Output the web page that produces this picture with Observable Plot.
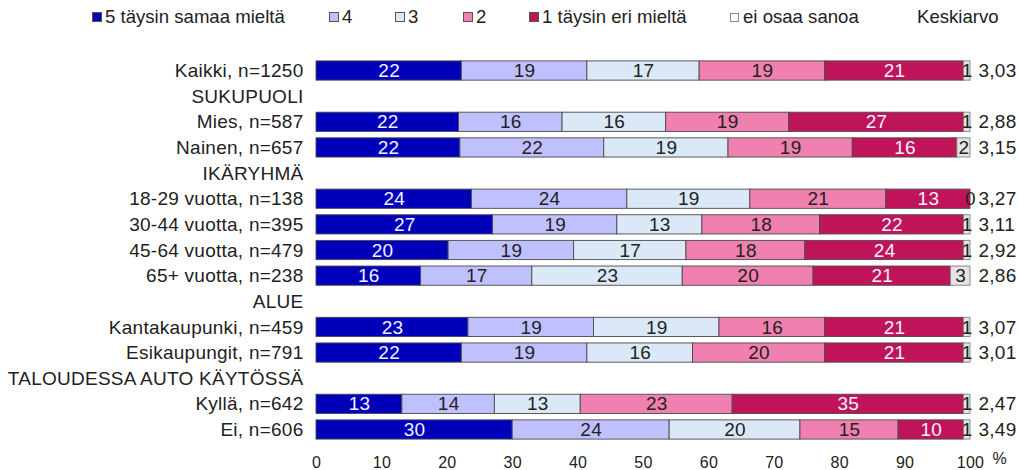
<!DOCTYPE html>
<html><head><meta charset="utf-8">
<script src="https://cdn.jsdelivr.net/npm/d3@7"></script>
<script src="https://cdn.jsdelivr.net/npm/@observablehq/plot@0.6"></script>
<style>
body{margin:0;background:#fff;font-family:"Liberation Sans",Arial,sans-serif;}
#legend{position:relative;width:1019px;height:34px;font-size:18.6px;color:#222}
#legend .sw{position:absolute;top:12px;width:10px;height:10px;border:1px solid #555;box-sizing:border-box}
#legend .lb{position:absolute;top:6px;line-height:22px;white-space:nowrap}
</style></head><body>
<div id="legend"></div>
<div id="chart"></div>
<script>
// ---- data ----
const rowLabels = ["Kaikki, n=1250","SUKUPUOLI","Mies, n=587","Nainen, n=657","IKÄRYHMÄ",
  "18-29 vuotta, n=138","30-44 vuotta, n=395","45-64 vuotta, n=479","65+ vuotta, n=238","ALUE",
  "Kantakaupunki, n=459","Esikaupungit, n=791","TALOUDESSA AUTO KÄYTÖSSÄ","Kyllä, n=642","Ei, n=606"];
const categories = ["5 täysin samaa mieltä","4","3","2","1 täysin eri mieltä","ei osaa sanoa"];
const s5  = [22,null,22,22,null,24,27,20,16,null,23,22,null,13,30];
const s4  = [19,null,16,22,null,24,19,19,17,null,19,19,null,14,24];
const s3  = [17,null,16,19,null,19,13,17,23,null,19,16,null,13,20];
const s2  = [19,null,19,19,null,21,18,18,20,null,16,20,null,23,15];
const s1  = [21,null,27,16,null,13,22,24,21,null,21,21,null,35,10];
const sEi = [1,null,1,2,null,0,1,1,3,null,1,1,null,1,1];
const means = ["3,03",null,"2,88","3,15",null,"3,27","3,11","2,92","2,86",null,"3,07","3,01",null,"2,47","3,49"];
const xTicks = [0,10,20,30,40,50,60,70,80,90,100];
const colors = ["#0000bb","#c0c0ff","#dae8f7","#f080b0","#c0145a","#e4e4e4"];
const series = [s5,s4,s3,s2,s1,sEi];

// ---- build table ----
const segs = [];
rowLabels.forEach((row, i) => {
  if (s5[i] == null) return;
  const vals = series.map(s => s[i]);
  const total = d3.sum(vals);
  let c = 0;
  vals.forEach((v, k) => {
    const x1 = c / total * 100; c += v; const x2 = c / total * 100;
    segs.push({row, cat: categories[k], k, v, x1, x2});
  });
});
const meanRows = rowLabels.map((row, i) => ({row, m: means[i]})).filter(d => d.m != null);

// ---- legend ----
const leg = document.getElementById("legend");
const swX = [92,329,395,463,529,730];
categories.forEach((c, k) => {
  const sw = document.createElement("div");
  sw.className = "sw"; sw.style.left = swX[k] + "px"; sw.style.background = k === 5 ? "#fff" : colors[k];
  if (k === 5) { sw.style.borderColor = "#888"; sw.style.width = "9px"; sw.style.height = "9px"; sw.style.top = "13px"; }
  leg.appendChild(sw);
  const lb = document.createElement("div");
  lb.className = "lb"; lb.style.left = (swX[k] + 13) + "px"; lb.textContent = c;
  leg.appendChild(lb);
});
const kk = document.createElement("div");
kk.className = "lb"; kk.style.left = "917px"; kk.textContent = "Keskiarvo";
leg.appendChild(kk);

// ---- chart ----
const chart = Plot.plot({
  width: 1019, height: 436,
  marginLeft: 316, marginRight: 49, marginTop: 23.7, marginBottom: 27.7,
  style: {fontFamily: "'Liberation Sans', Arial, sans-serif", fontSize: "19px", color: "#222", background: "#fff", letterSpacing: "0.25px"},
  x: {domain: [0, 100], axis: null},
  y: {domain: rowLabels, paddingInner: 0.25, paddingOuter: 0.125, round: false, axis: null},
  color: {domain: categories, range: colors},
  marks: [
    Plot.barX(segs.filter(d => d.v > 0), {x1: "x1", x2: "x2", y: "row", fill: "cat",
      stroke: d => d.k === 5 ? "#808080" : "#4a4a4a", strokeWidth: 0.9}),
    Plot.text(segs, {x: d => (d.x1 + d.x2) / 2, y: "row", text: d => String(d.v),
      fill: d => (d.k === 0 || d.k === 4) ? "#f2f2ff" : "#222", fontSize: 19}),
    Plot.text(meanRows, {x: () => 100, y: "row", text: "m", dx: 8, textAnchor: "start", fill: "#222", fontSize: 19}),
    Plot.axisY({tickSize: 0, tickPadding: 13, fontSize: 19, fill: "#222", label: null}),
    Plot.axisX({ticks: xTicks, tickSize: 0, tickPadding: 14, fontSize: 16, fill: "#222", label: null}),
    Plot.text([{x: 100, t: "%"}], {x: "x", text: "t", frameAnchor: "bottom", dx: 22, dy: 21, textAnchor: "start", fontSize: 16, fill: "#222"})
  ]
});
document.getElementById("chart").appendChild(chart);
</script>
</body></html>
